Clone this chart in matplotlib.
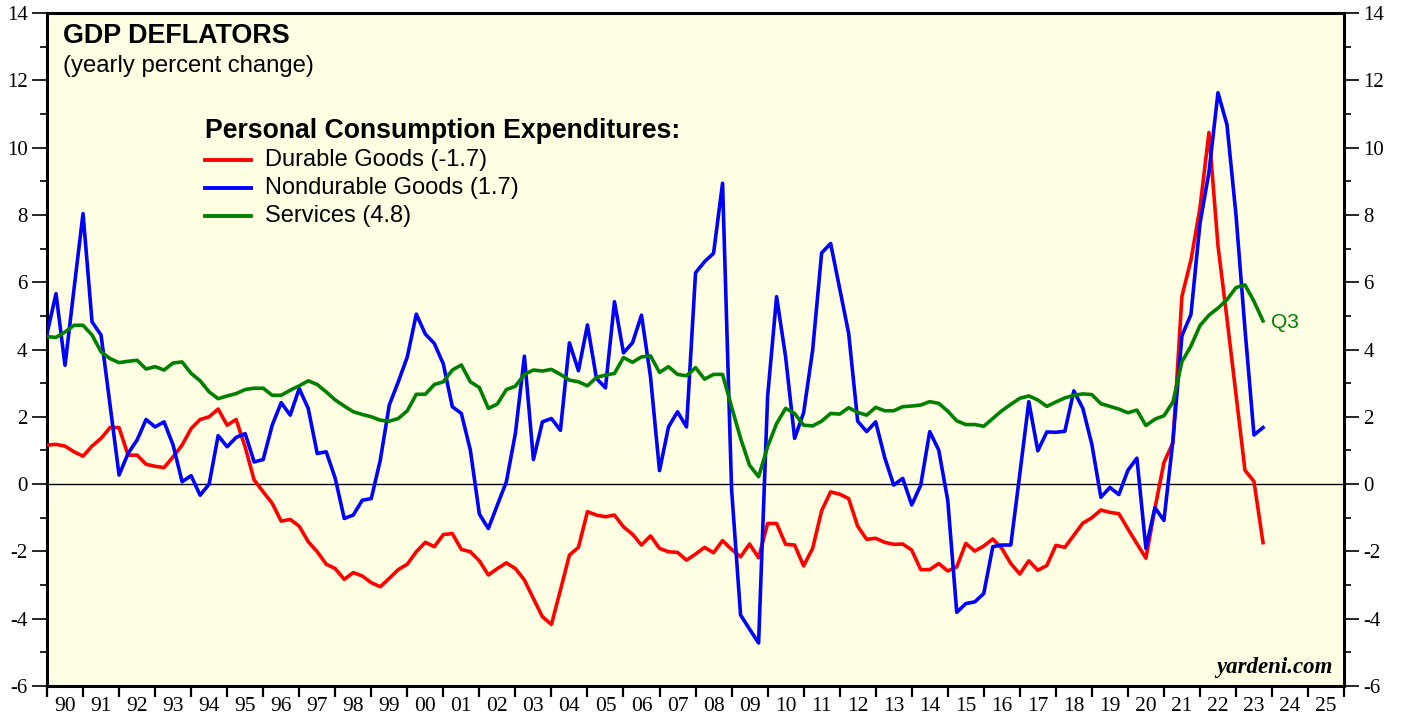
import matplotlib
matplotlib.use("Agg")
import matplotlib.pyplot as plt
import numpy as np

plt.rcParams["axes.unicode_minus"] = False

# quarterly, 1989Q4 .. 2023Q3 (yearly % change)
start_year = 1990.0
durable = [1.16, 1.18, 1.13, 0.96, 0.83, 1.13, 1.36, 1.68, 1.68, 0.86,
           0.86, 0.59, 0.53, 0.49, 0.81, 1.16, 1.65, 1.92, 2.00, 2.23,
           1.75, 1.92, 1.10, 0.12, -0.23, -0.57, -1.10, -1.05, -1.25, -1.71,
           -2.01, -2.38, -2.51, -2.83, -2.63, -2.73, -2.93, -3.05, -2.80, -2.54,
           -2.38, -2.01, -1.73, -1.86, -1.50, -1.47, -1.94, -2.01, -2.28, -2.70,
           -2.51, -2.34, -2.51, -2.85, -3.40, -3.94, -4.17, -3.15, -2.11, -1.88,
           -0.82, -0.92, -0.97, -0.92, -1.27, -1.49, -1.81, -1.54, -1.91, -2.01,
           -2.03, -2.26, -2.08, -1.88, -2.04, -1.68, -1.94, -2.16, -1.78, -2.19,
           -1.17, -1.17, -1.79, -1.81, -2.43, -1.91, -0.79, -0.23, -0.30, -0.43,
           -1.25, -1.64, -1.61, -1.73, -1.79, -1.78, -1.96, -2.54, -2.54, -2.36,
           -2.58, -2.46, -1.76, -1.99, -1.84, -1.63, -1.91, -2.36, -2.67, -2.28,
           -2.56, -2.42, -1.82, -1.88, -1.52, -1.16, -1.00, -0.77, -0.84, -0.88,
           -1.33, -1.77, -2.20, -0.72, 0.64, 1.23, 5.58, 6.66, 8.20, 10.45,
           7.09, 4.92, 2.66, 0.41, 0.08, -1.74]
nondurable = [4.47, 5.66, 3.53, 5.80, 8.04, 4.82, 4.43, 2.35, 0.27, 0.91,
              1.31, 1.92, 1.70, 1.85, 1.16, 0.07, 0.25, -0.33, 0.00, 1.44,
              1.11, 1.39, 1.50, 0.66, 0.73, 1.75, 2.42, 2.05, 2.84, 2.25,
              0.91, 0.96, 0.17, -1.02, -0.92, -0.48, -0.43, 0.71, 2.35, 3.04,
              3.78, 5.05, 4.46, 4.18, 3.57, 2.30, 2.10, 1.01, -0.89, -1.32,
              -0.62, 0.07, 1.51, 3.80, 0.73, 1.85, 1.95, 1.60, 4.20, 3.37,
              4.73, 3.14, 2.86, 5.42, 3.90, 4.20, 5.02, 3.19, 0.40, 1.70,
              2.15, 1.70, 6.28, 6.61, 6.86, 8.94, -0.15, -3.89, -4.31, -4.72,
              2.60, 5.57, 3.78, 1.36, 2.12, 3.98, 6.87, 7.15, 5.81, 4.48,
              1.87, 1.56, 1.85, 0.79, -0.03, 0.17, -0.62, -0.03, 1.56, 1.01,
              -0.48, -3.81, -3.55, -3.50, -3.25, -1.86, -1.81, -1.81, 0.30, 2.45,
              0.99, 1.55, 1.54, 1.57, 2.77, 2.25, 1.18, -0.39, -0.10, -0.31,
              0.41, 0.77, -1.91, -0.70, -1.08, 1.30, 4.41, 5.04, 7.74, 9.27,
              11.63, 10.68, 8.00, 4.60, 1.46, 1.68]
services = [4.38, 4.36, 4.52, 4.72, 4.72, 4.43, 3.93, 3.73, 3.61, 3.65,
            3.68, 3.42, 3.49, 3.39, 3.60, 3.63, 3.29, 3.07, 2.74, 2.54,
            2.62, 2.69, 2.81, 2.85, 2.85, 2.64, 2.64, 2.79, 2.92, 3.07,
            2.96, 2.74, 2.50, 2.32, 2.15, 2.07, 2.00, 1.90, 1.87, 1.95,
            2.18, 2.67, 2.67, 2.96, 3.04, 3.39, 3.54, 3.04, 2.87, 2.25,
            2.38, 2.81, 2.91, 3.26, 3.39, 3.36, 3.41, 3.26, 3.09, 3.04,
            2.92, 3.17, 3.24, 3.29, 3.76, 3.62, 3.78, 3.81, 3.32, 3.49,
            3.26, 3.22, 3.46, 3.12, 3.26, 3.26, 2.30, 1.36, 0.56, 0.22,
            1.11, 1.80, 2.25, 2.10, 1.75, 1.73, 1.87, 2.10, 2.08, 2.27,
            2.13, 2.05, 2.28, 2.18, 2.18, 2.30, 2.32, 2.35, 2.45, 2.40,
            2.17, 1.88, 1.77, 1.77, 1.72, 1.95, 2.18, 2.37, 2.55, 2.62,
            2.50, 2.31, 2.44, 2.56, 2.64, 2.68, 2.66, 2.39, 2.31, 2.23,
            2.12, 2.20, 1.74, 1.93, 2.03, 2.44, 3.64, 4.10, 4.71, 5.02,
            5.23, 5.48, 5.84, 5.92, 5.43, 4.85]
legend_labels = ["Durable Goods (-1.7)", "Nondurable Goods (1.7)", "Services (4.8)"]
colors = ["#ff0000", "#0000ff", "#008000"]
years = list(range(1990, 2026))

x = start_year + 0.25 * np.arange(len(durable))

fig = plt.figure(figsize=(14.03, 7.17), dpi=100)
ax = fig.add_axes([0.0335, 0.0432, 0.9245, 0.9387])
ax.set_facecolor("#ffffe3")

ax.axhline(0, color="black", lw=1.0, zorder=1)
for vals, c in zip([durable, nondurable, services], colors):
    ax.plot(x, vals, color=c, lw=2.6, zorder=3)

ax.set_xlim(1990, 2026)
ax.set_ylim(-6, 14)

# x axis: year ticks, labels centered between
ax.set_xticks(np.arange(1990, 2027), labels=[])
ax.set_xticks([y + 0.5 for y in years], labels=["%02d" % (y % 100) for y in years], minor=True)
ax.tick_params(axis="x", which="major", direction="out", length=8, width=1.6)
ax.tick_params(axis="x", which="minor", length=0, pad=8, labelsize=15.5)

ax.set_yticks(np.arange(-6, 15, 2))
ax.set_yticks(np.arange(-6, 15, 1), minor=True)
ax.tick_params(axis="y", which="major", direction="out", length=11, width=1.2,
               left=True, right=True, labelleft=True, labelright=True, labelsize=15, pad=3)
ax.tick_params(axis="y", which="minor", direction="out", length=5, width=1.2,
               left=True, right=True)
for lab in ax.get_xticklabels(minor=True) + ax.get_yticklabels():
    lab.set_family("Liberation Serif")
for s in ax.spines.values():
    s.set_linewidth(2.2)

ax.text(0.012, 0.985, "GDP DEFLATORS", transform=ax.transAxes, fontsize=19.4,
        fontweight="bold", family="Liberation Sans", va="top")
ax.text(0.012, 0.938, "(yearly percent change)", transform=ax.transAxes, fontsize=17.2,
        family="Liberation Sans", va="top")

# legend
ax.text(0.122, 0.824, "Personal Consumption Expenditures:", transform=ax.transAxes,
        fontsize=19.2, fontweight="bold", family="Liberation Sans", va="center")
for k, (lab, c) in enumerate(zip(legend_labels, colors)):
    yy = 0.782 - k * 0.0415
    ax.plot([0.122, 0.157], [yy, yy], transform=ax.transAxes, color=c, lw=2.8)
    ax.text(0.168, yy, lab, transform=ax.transAxes, fontsize=17,
            family="Liberation Sans", va="center")

ax.annotate("Q3", (x[-1], services[-1]), xytext=(6, -1), textcoords="offset points",
            color="#008000", fontsize=15, family="Liberation Sans", va="center")

ax.text(0.991, 0.012, "yardeni.com", transform=ax.transAxes, fontsize=16.5,
        fontweight="bold", style="italic", family="Liberation Serif", ha="right", va="bottom")

fig.savefig("out.png", dpi=100)
